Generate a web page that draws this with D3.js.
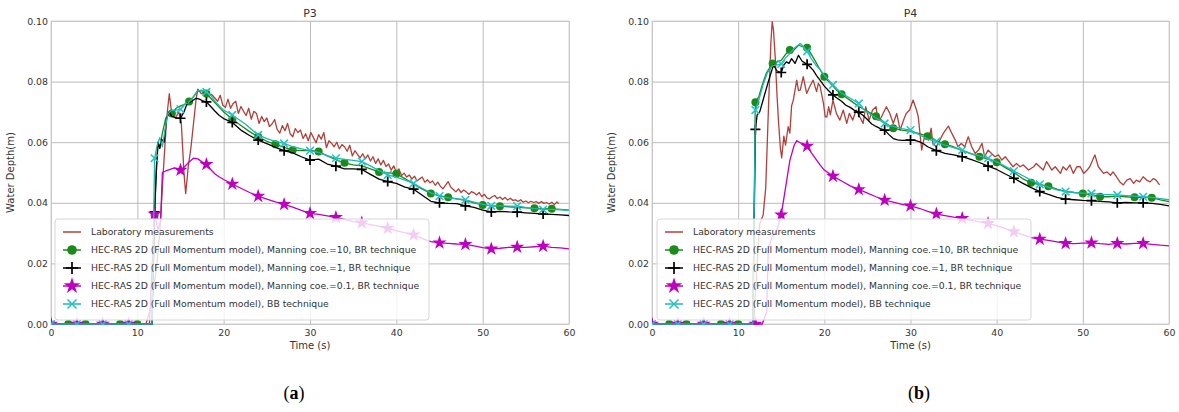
<!DOCTYPE html>
<html><head><meta charset="utf-8">
<script src="https://cdn.jsdelivr.net/npm/d3@7"></script>
<style>body{margin:0;background:#fff}svg{display:block}</style>
</head><body><svg id="c" width="1179" height="412"></svg>
<script>
// ---------------- data ----------------
const xTicks = [0, 10, 20, 30, 40, 50, 60];
const yTicks = [0.00, 0.02, 0.04, 0.06, 0.08, 0.10];
const panelTitles = ["P3", "P4"];
const panelLetters = ["a", "b"];
const xLabel = "Time (s)";
const yLabel = "Water Depth(m)";
const seriesNames = [
  "Laboratory measurements",
  "HEC-RAS 2D (Full Momentum model), Manning coe.=10, BR technique",
  "HEC-RAS 2D (Full Momentum model), Manning coe.=1, BR technique",
  "HEC-RAS 2D (Full Momentum model), Manning coe.=0.1, BR technique",
  "HEC-RAS 2D (Full Momentum model), BB technique"
];
// marker times
const every3Marks = [0,3,6,9,12,15,18,21,24,27,30,33,36,39,42,45,48,51,54,57];
const p3GreenMarks = [2,4,8,10,12,14,16,18,21,24,26,28,31,34,38,40,44,46,50,52,56,58];
const p4GreenMarks = [2,4,8,10,12,14,16,18,20,22,26,28,32,34,38,40,44,46,50,52,56,58];

// P3 series [time, depth]
const p3Lab = [[0,0],[11,0],[11.6,0.006],[12.2,0.018],[12.6,0.03],[13.0,0.05],[13.4,0.068],[13.7,0.076],[14.0,0.069],[14.4,0.068],[14.8,0.070],[15.1,0.066],[15.4,0.05],[15.6,0.043],[15.9,0.052],[16.2,0.058],[16.5,0.066],[16.8,0.074],[17.0,0.0775],[17.4,0.076],[17.8,0.0765],[18.2,0.075],[18.6,0.0758],[19.0,0.0745],[19.3,0.0735],[19.6,0.0755],[19.9,0.0722],[20.2,0.0715],[20.5,0.0742],[20.8,0.0712],[21.1,0.0728],[21.4,0.0735],[21.7,0.0695],[22.0,0.0718],[22.3,0.0702],[22.6,0.0688],[22.9,0.0712],[23.2,0.0676],[23.5,0.0702],[23.8,0.0695],[24.1,0.0662],[24.4,0.0685],[24.7,0.0668],[25.0,0.068],[25.3,0.0652],[25.6,0.066],[25.9,0.0675],[26.2,0.0642],[26.5,0.063],[26.8,0.0655],[27.1,0.0638],[27.4,0.0662],[27.7,0.0628],[28.0,0.0618],[28.3,0.0645],[28.6,0.0632],[28.9,0.064],[29.2,0.0612],[29.5,0.0628],[29.8,0.0605],[30.1,0.0632],[30.4,0.0615],[30.7,0.0598],[31.0,0.0625],[31.3,0.061],[31.6,0.0632],[31.9,0.0582],[32.2,0.0605],[32.5,0.0596],[32.8,0.0585],[33.1,0.060],[33.4,0.0578],[33.7,0.0592],[34.0,0.0585],[34.3,0.057],[34.6,0.059],[34.9,0.0555],[35.2,0.0572],[35.5,0.056],[35.8,0.0548],[36.1,0.0562],[36.4,0.0545],[36.7,0.0558],[37.0,0.0538],[37.3,0.0552],[37.6,0.053],[37.9,0.0545],[38.2,0.0525],[38.5,0.054],[38.8,0.052],[39.1,0.0528],[39.4,0.0508],[39.7,0.0522],[40.0,0.050],[40.3,0.0512],[40.6,0.049],[40.9,0.0498],[41.2,0.0485],[41.5,0.0492],[41.8,0.0478],[42.1,0.0488],[42.4,0.0472],[42.7,0.0479],[43.0,0.0485],[43.3,0.0468],[43.6,0.0476],[43.9,0.0466],[44.2,0.0472],[44.5,0.0458],[44.8,0.0468],[45.1,0.0455],[45.4,0.0446],[45.7,0.0458],[46.0,0.047],[46.3,0.0452],[46.6,0.0444],[46.9,0.0436],[47.2,0.0446],[47.5,0.0434],[47.8,0.0442],[48.1,0.0436],[48.4,0.0428],[48.7,0.0437],[49.0,0.0433],[49.3,0.0426],[49.6,0.0434],[49.9,0.042],[50.2,0.0428],[50.5,0.0416],[50.8,0.0413],[51.1,0.042],[51.4,0.0424],[51.7,0.0414],[52.0,0.0419],[52.3,0.0411],[52.6,0.0418],[52.9,0.0409],[53.2,0.0415],[53.5,0.0408],[53.8,0.041],[54.1,0.0404],[54.4,0.041],[54.7,0.0402],[55.0,0.0406],[55.3,0.040],[55.6,0.0405],[55.9,0.0401],[56.2,0.0404],[56.5,0.0398],[56.8,0.0404],[57.1,0.0398],[57.4,0.0401],[57.7,0.0396],[58.0,0.0402],[58.3,0.0394],[58.6,0.0403],[58.8,0.0398]];
const p3Green = [[0,0],[2,0],[4,0],[8,0],[10,0],[11.7,0],[12,0.036],[12.2,0.052],[12.4,0.060],[12.6,0.058],[12.9,0.063],[13.3,0.068],[13.6,0.069],[14,0.0695],[14.5,0.0712],[15,0.072],[15.5,0.0725],[16,0.0734],[16.5,0.075],[17,0.0768],[17.5,0.077],[18,0.0761],[18.5,0.0745],[19,0.073],[19.5,0.0715],[20,0.070],[20.5,0.0688],[21,0.0675],[22,0.0655],[23,0.0635],[24,0.0618],[25,0.0603],[26,0.0593],[27,0.0583],[28,0.0574],[29,0.0572],[30,0.0573],[31,0.0569],[32,0.0555],[33,0.0542],[34,0.0532],[35,0.0525],[36,0.0522],[37,0.0512],[38,0.0502],[39,0.0499],[40,0.0496],[41,0.048],[42,0.0462],[43,0.0445],[44,0.0431],[45,0.0424],[46,0.0418],[47,0.0413],[48,0.0408],[49,0.040],[50,0.0393],[51,0.039],[52,0.0389],[53,0.0387],[54,0.0385],[55,0.0383],[56,0.0382],[57,0.0381],[58,0.038],[59,0.0378],[60,0.0376]];
const p3Black = [[0,0],[3,0],[6,0],[9,0],[11.7,0],[12,0.037],[12.2,0.050],[12.4,0.060],[12.6,0.058],[12.8,0.061],[13.1,0.060],[13.4,0.068],[13.7,0.070],[14.0,0.0685],[14.5,0.068],[15,0.0679],[15.4,0.070],[15.8,0.073],[16.3,0.0735],[16.8,0.0745],[17.2,0.0742],[17.6,0.0736],[18,0.0733],[18.5,0.0718],[19,0.0702],[19.5,0.0688],[20,0.0678],[21,0.0665],[22,0.064],[23,0.0622],[24,0.0607],[25,0.0595],[26,0.0583],[27,0.0572],[28,0.0565],[29,0.0552],[30,0.0541],[31,0.0544],[32,0.0528],[33,0.0521],[34,0.0512],[35,0.0512],[36,0.051],[37,0.0494],[38,0.0478],[39,0.047],[40,0.0464],[41,0.0452],[42,0.0445],[43,0.0425],[44,0.0405],[45,0.040],[46,0.0398],[47,0.0397],[48,0.039],[49,0.0385],[50,0.0376],[51,0.037],[52,0.0372],[53,0.037],[54,0.0369],[55,0.0367],[56,0.0365],[57,0.0363],[58,0.0362],[59,0.036],[60,0.0358]];
const p3Magenta = [[0,0],[3,0],[6,0],[9,0],[11.4,0],[12,0.0363],[12.4,0.031],[12.7,0.034],[12.9,0.050],[13.3,0.0505],[13.8,0.051],[14.3,0.0515],[15,0.0508],[15.5,0.052],[16,0.0535],[16.5,0.0547],[17,0.0545],[17.5,0.0535],[18,0.0527],[18.5,0.051],[19,0.0495],[19.5,0.0485],[20,0.0477],[21,0.0462],[22,0.0448],[23,0.0434],[24,0.0422],[25,0.0412],[26,0.0403],[27,0.0395],[28,0.0386],[29,0.0375],[30,0.0365],[31,0.0362],[32,0.0357],[33,0.0352],[34,0.0345],[35,0.0338],[36,0.0334],[37,0.0328],[38,0.0322],[39,0.0316],[40,0.0308],[41,0.0301],[42,0.0294],[43,0.0282],[44,0.0272],[45,0.0268],[46,0.0266],[47,0.0264],[48,0.0263],[49,0.0258],[50,0.0252],[51,0.0248],[52,0.025],[53,0.0253],[54,0.0254],[55,0.0253],[56,0.0255],[57,0.0257],[58,0.0253],[59,0.0251],[60,0.0248]];
const p3Cyan = [[0,0],[3,0],[6,0],[9,0],[11.7,0],[12,0.0547],[12.3,0.059],[12.6,0.0615],[12.9,0.0585],[13.2,0.064],[13.5,0.069],[13.9,0.0705],[14.4,0.0705],[15,0.0709],[15.4,0.0725],[15.9,0.073],[16.4,0.0745],[16.9,0.0768],[17.4,0.0772],[18,0.0766],[18.5,0.0755],[19,0.0735],[19.5,0.072],[20,0.0705],[20.5,0.0698],[21,0.069],[21.5,0.068],[22,0.067],[22.5,0.066],[23,0.0648],[23.5,0.0635],[24,0.0624],[25,0.0612],[26,0.0603],[27,0.0596],[28,0.0585],[29,0.0578],[30,0.0572],[31,0.0566],[32,0.0556],[33,0.0547],[34,0.0543],[35,0.054],[36,0.0536],[37,0.0522],[38,0.0506],[39,0.0492],[40,0.0485],[41,0.0475],[42,0.0464],[43,0.0448],[44,0.0433],[45,0.0422],[46,0.0416],[47,0.0413],[48,0.041],[49,0.0402],[50,0.0395],[51,0.039],[52,0.039],[53,0.0389],[54,0.0389],[55,0.0385],[56,0.0381],[57,0.0378],[58,0.0378],[59,0.0377],[60,0.0375]];

// P4 series [time, depth]
const p4Lab = [[0,0],[11.8,0],[12.2,0.02],[12.5,0.033],[12.9,0.036],[13.2,0.045],[13.5,0.07],[13.8,0.093],[13.95,0.0998],[14.1,0.097],[14.3,0.088],[14.5,0.076],[14.7,0.066],[14.9,0.058],[15.05,0.0548],[15.3,0.062],[15.5,0.059],[15.8,0.0651],[16.0,0.063],[16.2,0.072],[16.4,0.0739],[16.8,0.0805],[17.0,0.077],[17.2,0.0772],[17.55,0.0816],[17.95,0.0761],[18.3,0.0783],[18.7,0.0805],[19.1,0.0767],[19.3,0.0794],[19.5,0.0785],[19.9,0.0728],[20.1,0.0684],[20.3,0.0684],[20.5,0.0717],[20.7,0.069],[21.0,0.0739],[21.4,0.0695],[21.8,0.0673],[22.2,0.0706],[22.6,0.0662],[22.9,0.0695],[23.3,0.0673],[23.7,0.0706],[24.1,0.0684],[24.5,0.0662],[24.8,0.0717],[25.2,0.0673],[25.6,0.0706],[26.0,0.0717],[26.2,0.0673],[26.45,0.0673],[27.2,0.0717],[27.6,0.0695],[28.0,0.0662],[28.4,0.0695],[28.8,0.064],[29.2,0.0673],[29.5,0.0695],[29.9,0.0706],[30.3,0.0739],[30.7,0.0706],[30.9,0.0684],[31.3,0.0574],[31.7,0.0629],[32.1,0.0607],[32.4,0.0646],[32.6,0.0596],[33.0,0.0585],[33.4,0.0607],[33.8,0.0629],[34.4,0.0653],[34.8,0.0629],[35.2,0.0607],[35.5,0.0585],[35.9,0.0596],[36.3,0.0585],[36.7,0.0618],[37.1,0.0585],[37.5,0.0563],[37.9,0.0574],[38.3,0.0596],[38.6,0.0552],[39.0,0.0574],[39.4,0.0563],[39.8,0.0552],[40.2,0.0558],[40.6,0.0541],[41.0,0.0552],[41.3,0.0541],[41.9,0.0519],[42.3,0.053],[42.7,0.0519],[43.1,0.0525],[43.7,0.0508],[44.3,0.0519],[44.6,0.053],[45.0,0.0519],[45.4,0.0508],[45.8,0.0536],[46.4,0.0508],[46.8,0.0519],[47.4,0.0497],[47.7,0.0519],[48.1,0.0508],[48.5,0.0525],[48.9,0.0497],[49.3,0.0519],[49.7,0.0519],[50.1,0.0497],[50.5,0.0508],[50.8,0.0519],[51.4,0.0558],[51.8,0.0519],[52.4,0.0497],[52.8,0.0502],[53.2,0.0491],[53.5,0.0502],[53.9,0.0486],[54.3,0.0469],[54.7,0.0459],[55.1,0.0475],[55.5,0.048],[55.9,0.0464],[56.2,0.0475],[56.6,0.0469],[57.0,0.0486],[57.4,0.0475],[57.8,0.0469],[58.2,0.048],[58.5,0.0475],[58.9,0.0459]];
const p4Green = [[0,0],[2,0],[4,0],[8,0],[10,0],[11.7,0],[12,0.0732],[12.4,0.075],[12.8,0.079],[13.3,0.083],[14,0.086],[14.5,0.0865],[15,0.087],[15.5,0.089],[16,0.0904],[16.5,0.0905],[17,0.092],[17.5,0.0915],[18,0.0912],[18.5,0.089],[19,0.0865],[19.5,0.084],[20,0.0816],[20.5,0.080],[21,0.0785],[21.5,0.077],[22,0.0758],[23,0.0738],[24,0.0718],[25,0.0702],[26,0.0686],[27,0.0665],[28,0.0646],[29,0.064],[30,0.0636],[31,0.0628],[32,0.062],[33,0.0605],[34,0.0593],[35,0.0585],[36,0.0572],[37,0.0562],[38,0.0552],[39,0.0544],[40,0.0534],[41,0.0516],[42,0.050],[43,0.048],[44,0.0466],[45,0.046],[46,0.0455],[47,0.0445],[48,0.0438],[49,0.0434],[50,0.0431],[51,0.0426],[52,0.042],[53,0.042],[54,0.0422],[55,0.042],[56,0.0418],[57,0.0418],[58,0.0417],[59,0.041],[60,0.0404]];
const p4Black = [[0,0],[3,0],[6,0],[9,0],[11.7,0],[12,0.0642],[12.2,0.069],[12.5,0.070],[13,0.075],[13.5,0.080],[14.1,0.0855],[14.5,0.0835],[15,0.083],[15.3,0.0855],[15.6,0.0865],[15.9,0.086],[16.2,0.0876],[16.6,0.086],[17,0.0887],[17.4,0.0868],[18,0.0857],[18.3,0.085],[18.7,0.0838],[19.1,0.082],[19.5,0.0805],[20,0.0785],[20.5,0.077],[21,0.0756],[21.5,0.0745],[22,0.0735],[22.5,0.0722],[23,0.0715],[23.5,0.0705],[24,0.0699],[24.5,0.0688],[25,0.0675],[25.5,0.066],[26,0.0652],[26.5,0.0645],[27,0.064],[27.5,0.0625],[28,0.0612],[28.5,0.0608],[29,0.0606],[30,0.0607],[30.5,0.0606],[31,0.0602],[31.5,0.0595],[32,0.0585],[33,0.0572],[33.5,0.0568],[34,0.0563],[35,0.0558],[36,0.0552],[37,0.0543],[38,0.0533],[39,0.0521],[40,0.051],[41,0.0495],[42,0.0481],[43,0.0465],[44,0.045],[45,0.0437],[46,0.0428],[47,0.0418],[48,0.0412],[49,0.041],[50,0.0408],[51,0.0407],[52,0.0405],[53,0.0403],[54,0.040],[55,0.0401],[56,0.040],[57,0.040],[58,0.0398],[59,0.0395],[60,0.039]];
const p4Magenta = [[0,0],[3,0],[6,0],[9,0],[12,0],[12.8,0],[13.3,0.004],[13.5,0.025],[14,0.029],[14.5,0.031],[15,0.036],[15.5,0.045],[16,0.054],[16.5,0.059],[16.8,0.0605],[17.2,0.0598],[17.6,0.0595],[18,0.0587],[18.5,0.0565],[19,0.0545],[19.5,0.0525],[20,0.0508],[21,0.0488],[22,0.0472],[23,0.0456],[24,0.0444],[25,0.0432],[26,0.042],[27,0.0409],[28,0.0402],[29,0.0395],[30,0.039],[31,0.0382],[32,0.0372],[33,0.0363],[34,0.0358],[35,0.0353],[36,0.0349],[37,0.0342],[38,0.0337],[39,0.0332],[40,0.0325],[41,0.0315],[42,0.0305],[43,0.0295],[44,0.0285],[45,0.028],[46,0.0276],[47,0.0271],[48,0.0266],[49,0.0265],[50,0.0267],[51,0.0268],[52,0.0265],[53,0.0263],[54,0.0266],[55,0.0264],[56,0.0266],[57,0.0266],[58,0.0263],[59,0.026],[60,0.0258]];
const p4Cyan = [[0,0],[3,0],[6,0],[9,0],[11.7,0],[12,0.0706],[12.4,0.074],[12.9,0.079],[13.4,0.083],[14,0.0853],[15,0.0858],[15.4,0.0875],[15.9,0.089],[16.5,0.091],[17.2,0.0926],[17.6,0.0915],[18,0.090],[18.5,0.0875],[19,0.0855],[19.5,0.084],[20,0.082],[20.5,0.0805],[21,0.0789],[21.5,0.0775],[22,0.0762],[23,0.0745],[24,0.0728],[24.5,0.071],[25,0.0698],[26,0.068],[27,0.0662],[27.5,0.0655],[28,0.0652],[29,0.0645],[30,0.064],[31,0.0625],[32,0.061],[33,0.0602],[34,0.059],[35,0.0582],[36,0.0574],[37,0.0562],[38,0.0555],[39,0.0547],[40,0.0535],[41,0.052],[42,0.0505],[43,0.049],[44,0.0475],[45,0.0461],[46,0.0452],[47,0.0443],[48,0.0437],[49,0.0434],[50,0.0432],[51,0.0431],[52,0.0428],[53,0.0427],[54,0.0426],[55,0.0424],[56,0.0422],[57,0.042],[58,0.0418],[59,0.0414],[60,0.041]];

// ---------------- drawing ----------------
const svg = d3.select("#c");
const FONT = "DejaVu Sans, Verdana, sans-serif";
const styles = [
  {color:"#b0403a", width:1.3, marker:null},
  {color:"#1a8a1a", width:1.3, marker:"circle"},
  {color:"#000000", width:1.3, marker:"plus"},
  {color:"#c000c0", width:1.3, marker:"star"},
  {color:"#1fb8b0", width:1.3, marker:"x", mcolor:"#22c3c6"}
];

function markerPath(type, s) {
  if (type === "plus") return `M${-s},0H${s}M0,${-s}V${s}`;
  if (type === "x") return `M${-s},${-s}L${s},${s}M${-s},${s}L${s},${-s}`;
  return null;
}
function drawMarker(g, type, cx, cy, st, big) {
  const col = st.mcolor || st.color;
  if (type === "circle") {
    g.append("circle").attr("cx",cx).attr("cy",cy).attr("r", big?4.8:4).attr("fill",col);
  } else if (type === "star") {
    g.append("path").attr("transform",`translate(${cx},${cy})`)
      .attr("d", d3.symbol(d3.symbolStar, big?85:62)()).attr("fill",col);
  } else if (type === "plus") {
    g.append("path").attr("transform",`translate(${cx},${cy})`)
      .attr("d", markerPath("plus", big?6:5)).attr("stroke",col).attr("stroke-width",1.7).attr("fill","none");
  } else if (type === "x") {
    g.append("path").attr("transform",`translate(${cx},${cy})`)
      .attr("d", markerPath("x", big?4.5:3.8)).attr("stroke",col).attr("stroke-width",1.5).attr("fill","none");
  }
}

const panels = [
  {left:51, right:569, title:panelTitles[0], letter:panelLetters[0],
   series:[p3Lab,p3Green,p3Black,p3Magenta,p3Cyan],
   marks:[null,p3GreenMarks,every3Marks,every3Marks,every3Marks], legX:55},
  {left:652, right:1169, title:panelTitles[1], letter:panelLetters[1],
   series:[p4Lab,p4Green,p4Black,p4Magenta,p4Cyan],
   marks:[null,p4GreenMarks,every3Marks,every3Marks,every3Marks], legX:657}
];
const TOP = 21, BOTTOM = 324;

panels.forEach((p, pi) => {
  const x = d3.scaleLinear().domain([0,60]).range([p.left, p.right]);
  const y = d3.scaleLinear().domain([0,0.1]).range([BOTTOM, TOP]);
  const g = svg.append("g");

  // grid
  g.append("g").attr("transform",`translate(0,${BOTTOM})`)
    .call(d3.axisBottom(x).tickValues(xTicks).tickSize(-(BOTTOM-TOP)).tickFormat(""))
    .call(a => a.select(".domain").remove())
    .call(a => a.selectAll("line").attr("stroke","#b4b4b4").attr("stroke-width",0.9));
  g.append("g").attr("transform",`translate(${p.left},0)`)
    .call(d3.axisLeft(y).tickValues(yTicks).tickSize(-(p.right-p.left)).tickFormat(""))
    .call(a => a.select(".domain").remove())
    .call(a => a.selectAll("line").attr("stroke","#b4b4b4").attr("stroke-width",0.9));
  // frame
  g.append("rect").attr("x",p.left).attr("y",TOP).attr("width",p.right-p.left).attr("height",BOTTOM-TOP)
    .attr("fill","none").attr("stroke","#d4d4d4").attr("stroke-width",1);

  // axes labels
  g.append("g").attr("transform",`translate(0,${BOTTOM})`)
    .call(d3.axisBottom(x).tickValues(xTicks).tickSize(0).tickPadding(5).tickFormat(d3.format("d")))
    .call(a => a.select(".domain").remove())
    .call(a => a.selectAll("text").attr("font-family",FONT).attr("font-size",9.4).attr("fill","#333"));
  g.append("g").attr("transform",`translate(${p.left},0)`)
    .call(d3.axisLeft(y).tickValues(yTicks).tickSize(0).tickPadding(3).tickFormat(d3.format(".2f")))
    .call(a => a.select(".domain").remove())
    .call(a => a.selectAll("text").attr("font-family",FONT).attr("font-size",9.4).attr("fill","#333"));

  // clip
  const cid = "clip"+pi;
  svg.append("clipPath").attr("id",cid).append("rect")
    .attr("x",p.left).attr("y",TOP-1).attr("width",p.right-p.left).attr("height",BOTTOM-TOP+2);
  const plot = g.append("g").attr("clip-path",`url(#${cid})`);
  const line = d3.line().x(d=>x(d[0])).y(d=>y(d[1]));

  p.series.forEach((data, si) => {
    const st = styles[si];
    plot.append("path").datum(data).attr("d",line).attr("fill","none")
      .attr("stroke",st.color).attr("stroke-width",st.width).attr("stroke-linejoin","round");
    if (st.marker) {
      const mg = plot.append("g");
      p.marks[si].forEach(t => {
        const pt = data.find(d => Math.abs(d[0]-t) < 0.16);
        if (pt) drawMarker(mg, st.marker, x(pt[0]), y(pt[1]), st, false);
      });
    }
  });

  // title
  g.append("text").attr("x",(p.left+p.right)/2).attr("y",TOP-4).attr("text-anchor","middle")
    .attr("font-family",FONT).attr("font-size",11).attr("fill","#333").text(p.title);
  // x label
  g.append("text").attr("x",(p.left+p.right)/2).attr("y",349).attr("text-anchor","middle")
    .attr("font-family",FONT).attr("font-size",10).attr("fill","#333").text(xLabel);
  // y label
  g.append("text").attr("transform",`translate(${p.left-37},${(TOP+BOTTOM)/2}) rotate(-90)`)
    .attr("text-anchor","middle").attr("font-family",FONT).attr("font-size",10).attr("fill","#333").text(yLabel);

  // legend
  const lg = g.append("g");
  lg.append("rect").attr("x",p.legX).attr("y",219).attr("width",374).attr("height",101).attr("rx",3)
    .attr("fill","#fff").attr("fill-opacity",0.8).attr("stroke","#d6d6d6").attr("stroke-width",1);
  seriesNames.forEach((name, si) => {
    const st = styles[si];
    const cy = 232 + si*18;
    lg.append("line").attr("x1",p.legX+8).attr("x2",p.legX+26).attr("y1",cy).attr("y2",cy)
      .attr("stroke",st.color).attr("stroke-width",1.5);
    if (st.marker) drawMarker(lg, st.marker, p.legX+17, cy, st, true);
    lg.append("text").attr("x",p.legX+36).attr("y",cy).attr("dy","0.35em")
      .attr("font-family",FONT).attr("font-size",9.25).attr("fill","#333").text(name);
  });

  // panel letter
  const lt = svg.append("text").attr("x", pi===0 ? 294 : 919).attr("y",399).attr("text-anchor","middle")
    .attr("font-family","Liberation Serif, Times New Roman, serif").attr("font-size",18).attr("fill","#000");
  lt.append("tspan").text("(");
  lt.append("tspan").attr("font-weight","bold").text(p.letter);
  lt.append("tspan").text(")");
});
</script></body></html>
